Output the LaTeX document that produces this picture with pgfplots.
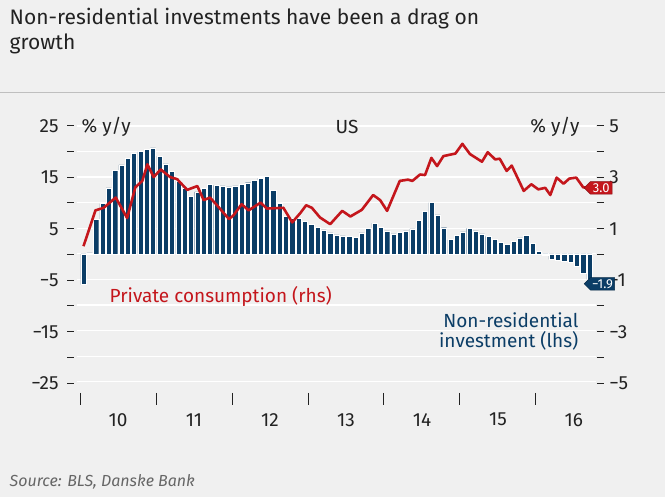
\documentclass[border=0pt]{standalone}
\usepackage{pgfplots}
\pgfplotsset{compat=1.18}
\usepackage{fontspec}
\setmainfont{Fira Sans}
\usetikzlibrary{shapes.arrows}
\definecolor{bg}{HTML}{F0F0F0}
\definecolor{navy}{HTML}{0B3D66}
\definecolor{dred}{HTML}{C4161C}
\definecolor{txt}{HTML}{222222}
\begin{document}
\begin{tikzpicture}
\fill[bg] (0pt,0pt) rectangle (665pt,497pt);
\begin{axis}[at={(77pt,115pt)},anchor=south west,scale only axis,width=519pt,height=256pt,
  xmin=0,xmax=82,ymin=-25,ymax=25,clip=false,
  axis line style={draw=none},tick style={draw=none},
  xtick=\empty,
  ytick={-25,-20,...,25},
  ymajorgrids,grid style={white,line width=1.2pt},
  yticklabels={},
  ybar,bar width=5.2pt,bar shift=0pt]
\addplot[fill=navy,draw=white,line width=0.4pt] coordinates {
(1,-6.0)(2,0.2)(3,6.7)(4,9.8)(5,12.9)(6,16.3)(7,17.4)(8,18.6)(9,19.6)(10,20.0)
(11,20.4)(12,20.7)(13,19.1)(14,17.6)(15,16.1)(16,14.2)(17,12.9)(18,11.3)(19,12.1)(20,12.8)
(21,13.6)(22,13.4)(23,13.3)(24,13.1)(25,13.3)(26,13.6)(27,13.9)(28,14.4)(29,14.8)(30,15.1)
(31,12.4)(32,9.9)(33,7.3)(34,7.0)(35,6.9)(36,6.3)(37,5.7)(38,5.2)(39,4.7)(40,4.1)
(41,3.7)(42,3.5)(43,3.4)(44,3.2)(45,4.1)(46,5.0)(47,6.0)(48,5.2)(49,4.5)(50,3.9)
(51,4.2)(52,4.5)(53,4.9)(54,6.5)(55,8.3)(56,10.0)(57,7.6)(58,5.1)(59,2.8)(60,3.6)
(61,4.3)(62,5.0)(63,4.5)(64,3.9)(65,3.4)(66,2.8)(67,2.3)(68,1.8)(69,2.5)(70,3.1)
(71,3.6)(72,2.0)(73,0.5)(74,-0.3)(75,-1.1)(76,-1.2)(77,-1.4)(78,-1.6)(79,-2.4)(80,-3.8)(81,-5.0)};
\end{axis}
\begin{axis}[at={(77pt,115pt)},anchor=south west,scale only axis,width=519pt,height=256pt,
  xmin=0,xmax=82,ymin=-5,ymax=5,axis lines=none,clip=false]
\addplot[dred,line width=2.6pt,line join=round] coordinates {
(1,0.3)(2.9,1.7)(4.2,1.8)(6.1,2.2)(7.9,1.4)(9.2,2.6)(10.3,2.85)(11.1,3.5)(12.1,3.0)(13.2,3.3)
(14.7,3.0)(15.8,2.92)(17.4,2.5)(19,2.65)(20,2.1)(21,2.2)(22.1,1.9)(24,1.36)(24.7,1.5)(26,1.94)
(27.1,1.7)(29,2.0)(30,1.77)(32.6,1.8)(34,1.23)(35.3,1.6)(36.2,1.9)(37.1,1.8)(38.4,1.42)(40,1.16)
(41.9,1.68)(43.2,1.46)(45,1.72)(46.8,2.3)(47.9,2.1)(49,1.68)(51,2.85)(52.3,2.9)(53,2.85)(54.2,3.1)
(55,3.08)(56,3.75)(56.9,3.43)(57.9,3.82)(59.8,3.92)(60.9,4.3)(62.1,3.9)(64,3.6)(64.9,3.97)(66.1,3.69)
(66.8,3.72)(67.9,3.24)(68.7,3.45)(70.6,2.46)(71.8,2.72)(72.9,2.52)(74,2.58)(74.8,2.3)(75.8,2.98)(76.9,2.74)
(77.8,2.94)(78.9,2.98)(80,2.6)(81,2.57)};
\end{axis}
\begin{scope}[x=1pt,y=1pt]
\node[anchor=north west,align=left,text=txt,font=\fontsize{21}{25}\selectfont] at (6,492) {Non-residential investments have been a drag on\\growth};
\draw[gray!50] (0,405) -- (665,405);
\begin{scope}[font=\fontsize{19}{20}\selectfont,text=txt]
\foreach \v/\y in {25/126,15/177.5,5/229,−5/280.5,−15/332,−25/383.5}
  \node[anchor=east] at (62,497-\y) {\v};
\foreach \v/\y in {5/126,3/177.5,1/229,−1/280.5,−3/332,−5/383.5}
  \node[anchor=west] at (606,497-\y) {\v};
\foreach \y in {126,152,177.5,203,229,255,280.5,306,332,358,383.5}
  {\draw[txt,line width=1pt] (67,497-\y) -- (74,497-\y);
   \draw[txt,line width=1pt] (597,497-\y) -- (604,497-\y);}
\foreach \x in {80,156,232,308,384,460,536}
  \draw[txt,line width=1pt] (\x,497-393) -- (\x,497-405);
\foreach \t/\x in {10/118,11/194,12/270,13/346,14/422,15/498,16/574}
  \node at (\x,497-420) {\t};
\node[anchor=west] at (78,497-127) {\% y/y};
\node at (347,497-127) {US};
\node[anchor=east] at (583,497-127) {\% y/y};
\node[anchor=west,text=dred] at (106,497-297) {Private consumption (rhs)};
\node[anchor=east,align=right,text=navy] at (582,497-332) {Non-residential\\investment (lhs)};
\end{scope}
\node[single arrow,shape border rotate=180,fill=dred,draw=dred!70!black,text=white,
  font=\fontsize{13}{14}\selectfont,inner sep=1.5pt,single arrow head extend=0pt,
  minimum height=28pt,anchor=west] at (584,497-188) {3.0};
\node[single arrow,shape border rotate=180,fill=navy,draw=navy!70!black,text=white,
  font=\fontsize{13}{14}\selectfont,inner sep=1.5pt,single arrow head extend=0pt,
  minimum height=28pt,anchor=west] at (584,497-284) {−1.9};
\node[anchor=west,text=gray!80!black,font=\itshape\fontsize{16}{17}\selectfont] at (6,497-482) {Source: BLS, Danske Bank};
\end{scope}
\end{tikzpicture}
\end{document}
